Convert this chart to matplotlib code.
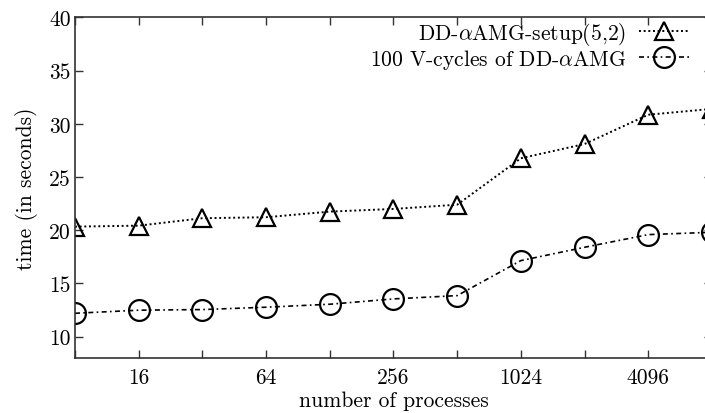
import matplotlib
matplotlib.use("Agg")
import matplotlib.pyplot as plt
from matplotlib.ticker import FixedLocator, NullFormatter, NullLocator

processes = [8, 16, 32, 64, 128, 256, 512, 1024, 2048, 4096, 8192]
setup_time = [20.34, 20.43, 21.13, 21.22, 21.75, 22.0, 22.4, 26.76, 28.1, 30.85, 31.4]
vcycle_time = [12.2, 12.49, 12.55, 12.77, 13.05, 13.55, 13.86, 17.15, 18.4, 19.59, 19.81]
xtick_labels = [16, 64, 256, 1024, 4096]
ytick_labels = [10, 15, 20, 25, 30, 35, 40]
series_names = [r"DD-$\alpha$AMG-setup(5,2)", r"100 V-cycles of DD-$\alpha$AMG"]

plt.rcParams['font.family'] = ['cmr10', 'DejaVu Serif']
plt.rcParams['mathtext.fontset'] = 'cm'
plt.rcParams['axes.formatter.use_mathtext'] = True

FS = 15.5
W, H = 705, 414
fig = plt.figure(figsize=(W / 100, H / 100), dpi=100)
left, right, top, bottom = 75, 712, 18.3, 359
ax = fig.add_axes([left / W, (H - bottom) / H, (right - left) / W, (bottom - top) / H])

ax.plot(processes, setup_time, linestyle=(0, (1, 1.4)), color='black', lw=1.4,
        marker='^', markersize=12.5, markerfacecolor='none', markeredgewidth=1.6,
        label=series_names[0])
ax.plot(processes, vcycle_time, linestyle=(0, (3, 2, 1, 2)), color='black', lw=1.2,
        marker='o', markersize=15, markerfacecolor='none', markeredgewidth=1.6,
        label=series_names[1])

ax.set_xscale('log', base=2)
ax.set_xlim(processes[0], processes[-1])
ax.set_ylim(8, 40)
ax.xaxis.set_major_locator(FixedLocator(xtick_labels))
ax.set_xticklabels([str(v) for v in xtick_labels])
ax.xaxis.set_minor_locator(FixedLocator([p for p in processes if p not in xtick_labels]))
ax.xaxis.set_minor_formatter(NullFormatter())
ax.yaxis.set_major_locator(FixedLocator(ytick_labels))
ax.set_yticklabels([str(v) for v in ytick_labels])
ax.yaxis.set_minor_locator(NullLocator())

for s in ax.spines.values():
    s.set_linewidth(1.2)
    s.set_color('#333333')
ax.tick_params(axis='both', which='both', direction='in', length=6, width=1.0,
               top=True, right=True, labelsize=FS, colors='#333333', labelcolor='black')
ax.tick_params(axis='x', pad=7)
ax.tick_params(axis='y', pad=3)

ax.set_xlabel("number of processes", fontsize=FS, labelpad=2.5)
ax.set_ylabel("time (in seconds)", fontsize=FS, labelpad=8)

leg = ax.legend(loc='upper right', bbox_to_anchor=(689 / W, (H - 21) / H),
                bbox_transform=fig.transFigure, frameon=False, markerfirst=False,
                fontsize=FS, handlelength=2.3, handletextpad=0.6, labelspacing=0.0,
                borderaxespad=0, borderpad=0)

fig.savefig("out.png", dpi=100)
